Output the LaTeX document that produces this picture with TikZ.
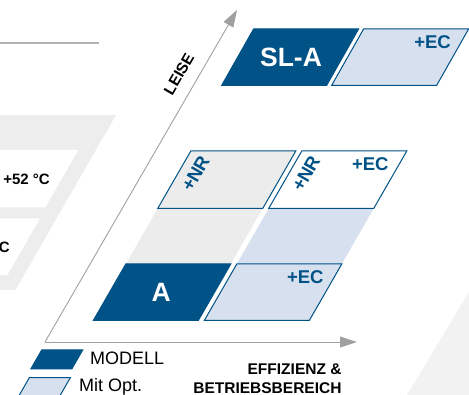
\documentclass[tikz,border=0pt]{standalone}
\usepackage{fontspec}
\setmainfont{Liberation Sans}
\usetikzlibrary{arrows.meta}
\definecolor{dblue}{HTML}{005287}
\definecolor{lblue}{HTML}{D6E0EE}
\definecolor{lgray}{HTML}{ECECEC}
\definecolor{bggray}{HTML}{EDEDED}
\definecolor{axgray}{HTML}{A0A0A0}
\begin{document}
\begin{tikzpicture}[x=1pt,y=-1pt,
  darkbox/.style={fill=dblue,draw=dblue,line width=1pt,line join=miter},
  optbox/.style={fill=lblue,draw=dblue,line width=1pt},
  graybox/.style={fill=lgray,draw=dblue,line width=1pt},
  whitebox/.style={fill=white,draw=dblue,line width=1pt},
  axisline/.style={draw=axgray,line width=0.9pt,-{Triangle[length=17pt,width=11pt]}},
  bigwhite/.style={text=white,font=\bfseries\fontsize{26.5}{28}\selectfont,inner sep=0pt},
  optlabel/.style={text=dblue,font=\bfseries\fontsize{18.5}{20}\selectfont,inner sep=0pt},
  axlabel/.style={text=black,font=\bfseries\fontsize{15.5}{17}\selectfont,inner sep=0pt},
  leglabel/.style={text=black,font=\fontsize{18}{19}\selectfont,inner sep=0pt},
  sidelabel/.style={text=black,font=\bfseries\fontsize{15}{17}\selectfont,inner sep=0pt}]
\useasboundingbox (0,0) rectangle (469,395);
% background decorations
\draw[line width=2pt,draw=black!30] (0,42.7) -- (99.3,42.7);
\fill[bggray] (0,115) -- (116,115) -- (15.4,290) -- (0,290) -- cycle;
\fill[white] (0,150) -- (78.3,150) -- (45.4,207.3) -- (0,207.3) -- cycle;
\fill[white] (0,218.3) -- (40,218.3) -- (7.4,275) -- (0,275) -- cycle;
\fill[black!5] (469,292) -- (469,395) -- (407,395) -- cycle;
\node[sidelabel,anchor=base east] (t52) at (50,184.5) {+52 °C};
\node[sidelabel,anchor=base east] (tc) at (10,252.3) {C};
% bands
\fill[lgray] (125.8,264) -- (230.8,264) -- (262.8,208.3) -- (157.8,208.3) -- cycle;
\fill[lblue] (236.8,264) -- (341.8,264) -- (373.8,208.3) -- (268.8,208.3) -- cycle;
% row A
\draw[darkbox] (93.3,320.5) -- (198.3,320.5) -- (230.8,264) -- (125.8,264) -- cycle;
\draw[optbox] (204.3,320.5) -- (309.3,320.5) -- (341.8,264) -- (236.8,264) -- cycle;
% row NR
\draw[graybox] (157.8,208.3) -- (262.8,208.3) -- (295.8,151) -- (190.8,151) -- cycle;
\draw[whitebox] (268.8,208.3) -- (373.8,208.3) -- (406.8,151) -- (301.8,151) -- cycle;
% row SL-A
\draw[darkbox] (221.7,85.3) -- (326.7,85.3) -- (358.6,29) -- (253.6,29) -- cycle;
\draw[optbox] (331.7,85.3) -- (436.7,85.3) -- (468.6,29) -- (363.6,29) -- cycle;
% labels
\node[bigwhite] (sla) at (291,57) {SL-A};
\node[bigwhite] (a) at (161.2,292.5) {A};
\node[optlabel] (ec1) at (305.3,277) {+EC};
\node[optlabel] (ec2) at (370.3,164.5) {+EC};
\node[optlabel] (ec3) at (432.5,41.7) {+EC};
\node[optlabel,rotate=60] (nr1) at (195.5,173.5) {+NR};
\node[optlabel,rotate=60] (nr2) at (306,173.5) {+NR};
% axes
\coordinate (O) at (45,342);
\coordinate (Ytip) at (237,10);
\coordinate (Xtip) at (357,342);
\draw[axisline] (O) -- (Ytip);
\draw[axisline] (O) -- (Xtip);
\node[axlabel,rotate=60] (leise) at (179,74) {LEISE};
\node[axlabel,anchor=base east] (eff) at (341.7,375) {EFFIZIENZ \&};
\node[axlabel,anchor=base east] (betr) at (341.7,393.6) {BETRIEBSBEREICH};
% legend
\draw[darkbox] (30.8,369) -- (71.8,369) -- (82.7,350) -- (41.7,350) -- cycle;
\draw[optbox] (18.4,396.7) -- (59.4,396.7) -- (70.3,377.7) -- (29.3,377.7) -- cycle;
\node[leglabel,anchor=base west] (modell) at (90,365) {MODELL};
\node[leglabel,anchor=base west] (mitopt) at (79,392) {Mit Opt.};
\end{tikzpicture}
\end{document}
